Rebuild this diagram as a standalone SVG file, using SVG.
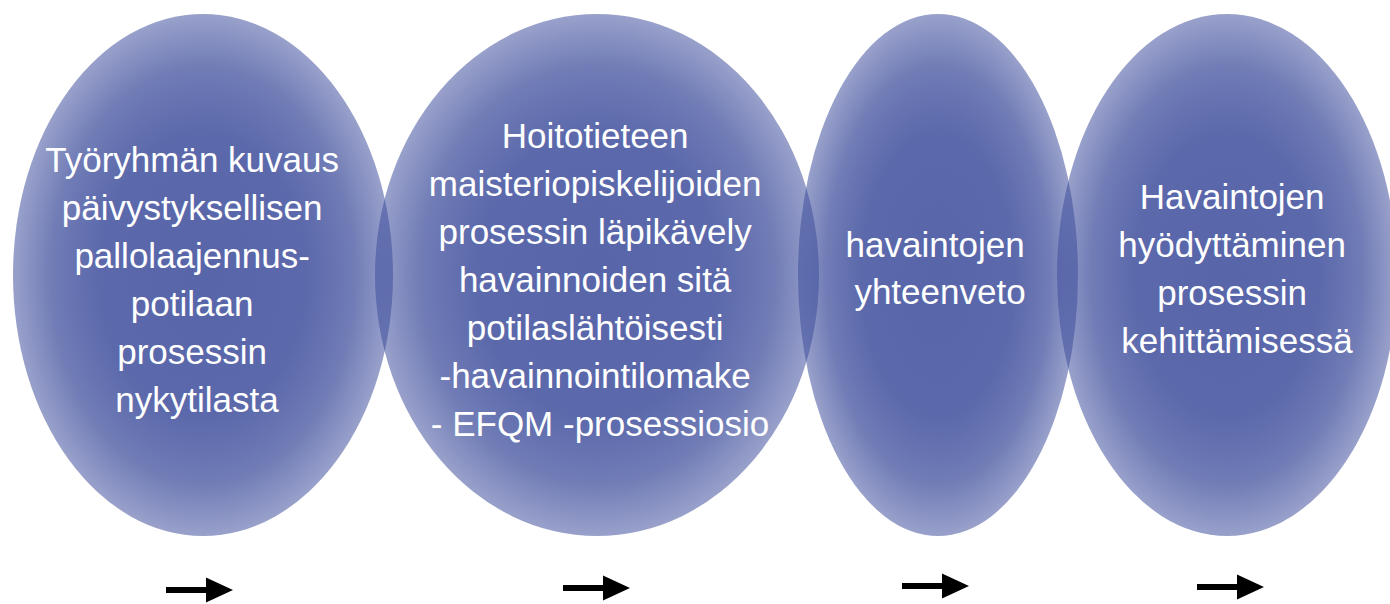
<svg xmlns="http://www.w3.org/2000/svg" xmlns:xlink="http://www.w3.org/1999/xlink" width="1390" height="604" viewBox="0 0 1390 604">
  <style>
    .bubble { fill: url(#bubbleFill); }
    .label { font-family: "Liberation Sans", Arial, sans-serif; font-size: 35px; fill: #ffffff; text-anchor: middle; }
    .arrow { fill: #000000; }
  </style>
  <defs>
    <!-- translucent blue, denser in the middle and fading towards the rim -->
    <radialGradient id="bubbleFill" cx="0.5" cy="0.5" r="0.5">
      <stop offset="0" stop-color="#3a4a9a" stop-opacity="0.85"/>
      <stop offset="0.55" stop-color="#3a4a9a" stop-opacity="0.83"/>
      <stop offset="0.8" stop-color="#3a4a9a" stop-opacity="0.72"/>
      <stop offset="1" stop-color="#3a4a9a" stop-opacity="0.52"/>
    </radialGradient>
    <path id="rightArrow" d="M0,-3 H40 V-12.5 L67,0 L40,12.5 V3 H0 Z"/>
  </defs>

  <rect x="0" y="0" width="1390" height="604" fill="#ffffff"/>

  <g id="step1">
    <ellipse class="bubble" cx="203" cy="275" rx="190" ry="261"/>
    <text class="label">
      <tspan x="197" y="172">Työryhmän kuvaus</tspan>
      <tspan x="197" y="220">päivystyksellisen</tspan>
      <tspan x="197" y="268">pallolaajennus-</tspan>
      <tspan x="197" y="316">potilaan</tspan>
      <tspan x="197" y="364">prosessin</tspan>
      <tspan x="197" y="412">nykytilasta</tspan>
    </text>
  </g>

  <g id="step2">
    <ellipse class="bubble" cx="597" cy="275" rx="222" ry="261"/>
    <text class="label">
      <tspan x="600" y="148">Hoitotieteen</tspan>
      <tspan x="600" y="196">maisteriopiskelijoiden</tspan>
      <tspan x="600" y="244">prosessin läpikävely</tspan>
      <tspan x="600" y="292">havainnoiden sitä</tspan>
      <tspan x="600" y="340">potilaslähtöisesti</tspan>
      <tspan x="600" y="388">-havainnointilomake</tspan>
      <tspan x="600" y="436">- EFQM -prosessiosio</tspan>
    </text>
  </g>

  <g id="step3">
    <ellipse class="bubble" cx="938" cy="275" rx="140" ry="261"/>
    <text class="label">
      <tspan x="940" y="257">havaintojen</tspan>
      <tspan x="940" y="304">yhteenveto</tspan>
    </text>
  </g>

  <g id="step4">
    <ellipse class="bubble" cx="1227" cy="275" rx="170" ry="261"/>
    <text class="label">
      <tspan x="1237" y="209">Havaintojen</tspan>
      <tspan x="1237" y="257">hyödyttäminen</tspan>
      <tspan x="1237" y="305">prosessin</tspan>
      <tspan x="1237" y="353">kehittämisessä</tspan>
    </text>
  </g>

  <g id="connectors">
    <use class="arrow" xlink:href="#rightArrow" transform="translate(166,590)"/>
    <use class="arrow" xlink:href="#rightArrow" transform="translate(563,588)"/>
    <use class="arrow" xlink:href="#rightArrow" transform="translate(902,586)"/>
    <use class="arrow" xlink:href="#rightArrow" transform="translate(1197,587)"/>
  </g>
</svg>
